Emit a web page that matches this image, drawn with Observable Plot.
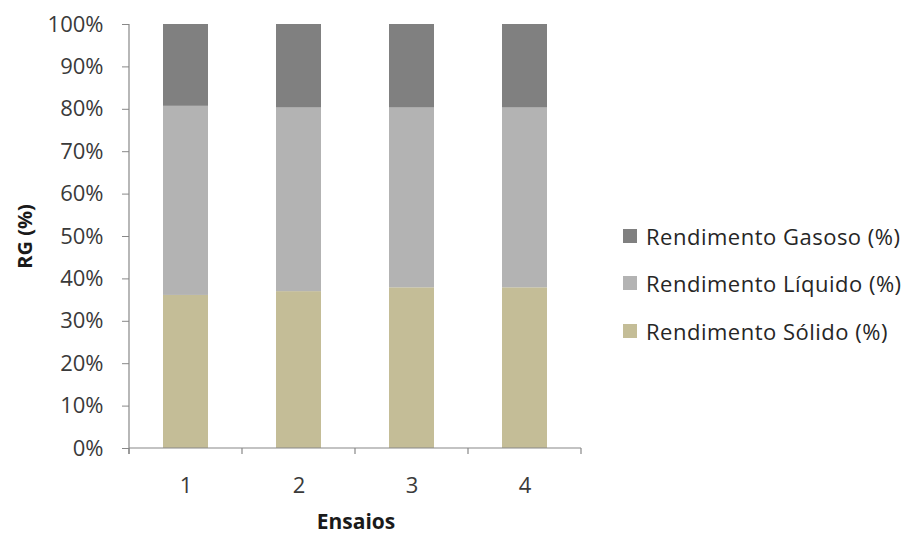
<!DOCTYPE html>
<html>
<head>
<meta charset="utf-8">
<script src="https://cdn.jsdelivr.net/npm/d3@7"></script>
<script src="https://cdn.jsdelivr.net/npm/@observablehq/plot@0.6"></script>
<style>
  body { margin: 0; background: #fff; }
  #wrap { position: relative; width: 906px; height: 533px; font-family: "Open Sans", "Liberation Sans", sans-serif; }
  #legend { position: absolute; left: 623px; top: 212px; font-size: 22px; letter-spacing: 0.5px; color: #262626; }
  .row { display: flex; align-items: center; height: 47.5px; white-space: nowrap; }
  .sw { width: 14px; height: 14px; margin-right: 9px; }
  g[aria-label="y-axis tick"] path { stroke: #888; }
</style>
</head>
<body>
<div id="wrap"></div>
<script>
// Yields (%) for each pyrolysis run
const ensaios = ["1", "2", "3", "4"];
const solido  = [36.1, 37.0, 37.9, 37.9];
const liquido = [44.6, 43.3, 42.4, 42.4];
const gasoso  = [19.3, 19.7, 19.7, 19.7];

const series = ["Rendimento Sólido (%)", "Rendimento Líquido (%)", "Rendimento Gasoso (%)"];
const colors = ["#c4bd97", "#b3b3b3", "#808080"];
const yTicks = [0, 10, 20, 30, 40, 50, 60, 70, 80, 90, 100];

const rows = [];
ensaios.forEach((e, i) => {
  rows.push({ensaio: e, serie: series[0], valor: solido[i]});
  rows.push({ensaio: e, serie: series[1], valor: liquido[i]});
  rows.push({ensaio: e, serie: series[2], valor: gasoso[i]});
});

const chart = Plot.plot({
  width: 906,
  height: 533,
  marginLeft: 129,
  marginRight: 324,
  marginTop: 24,
  marginBottom: 85,
  style: {fontFamily: '"Open Sans", "Liberation Sans", sans-serif', fontSize: "22px", color: "#3a3a3a", background: "#fff"},
  x: {domain: ensaios, paddingInner: 0.6, paddingOuter: 0.3, label: null},
  y: {domain: [0, 100], label: null},
  color: {domain: series, range: colors},
  marks: [
    Plot.barY(rows, {x: "ensaio", y: "valor", fill: "serie", order: series}),
    Plot.axisY({ticks: yTicks, tickFormat: d => d + "%", tickSize: 7, tickPadding: 19, fontSize: 22}),
    Plot.axisX({tickSize: 0, tickPadding: 29, fontSize: 22}),
    Plot.text(["RG (%)"], {frameAnchor: "left", textAnchor: "middle", dx: -104, rotate: -90, fontWeight: "bold", fontSize: 20, fill: "#1a1a1a"}),
    Plot.text(["Ensaios"], {frameAnchor: "bottom", dy: 80, fontWeight: "bold", fontSize: 21, fill: "#1a1a1a"})
  ]
});

// Axis lines and category-boundary ticks, placed from the plot's own scales
const sx = chart.scale("x");
const sy = chart.scale("y");
const gap = sx.step - sx.bandwidth;
const bounds = ensaios.map(e => sx.apply(e) - gap / 2);
bounds.push(bounds[bounds.length - 1] + sx.step);
const y0 = sy.apply(0), y100 = sy.apply(100);
const g = d3.select(chart).append("g").attr("stroke", "#888").attr("stroke-width", 1.2);
g.append("line").attr("x1", bounds[0]).attr("x2", bounds[0]).attr("y1", y100).attr("y2", y0 + 6);
g.append("line").attr("x1", bounds[0]).attr("x2", bounds[bounds.length - 1]).attr("y1", y0).attr("y2", y0);
bounds.forEach(b => g.append("line").attr("x1", b).attr("x2", b).attr("y1", y0).attr("y2", y0 + 6));

const wrap = document.getElementById("wrap");
wrap.appendChild(chart);

// Legend, top entry first
const legend = document.createElement("div");
legend.id = "legend";
[2, 1, 0].forEach(i => {
  const row = document.createElement("div");
  row.className = "row";
  const sw = document.createElement("span");
  sw.className = "sw";
  sw.style.background = colors[i];
  const tx = document.createElement("span");
  tx.textContent = series[i];
  row.appendChild(sw);
  row.appendChild(tx);
  legend.appendChild(row);
});
wrap.appendChild(legend);
</script>
</body>
</html>
